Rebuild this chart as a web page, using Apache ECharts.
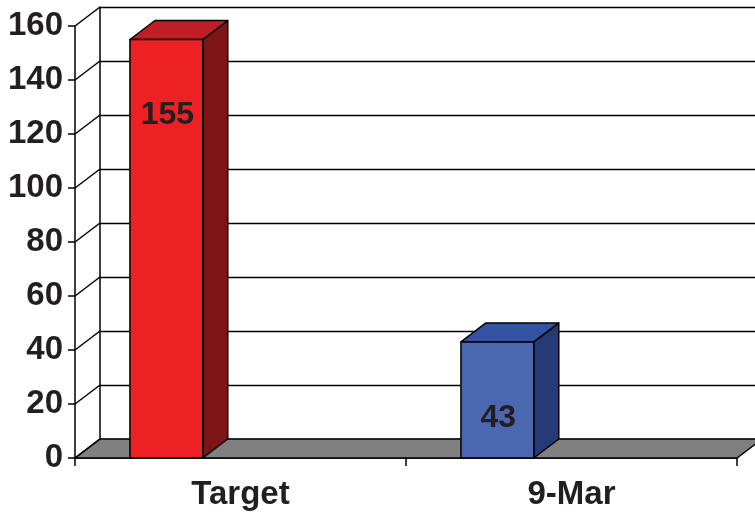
<!DOCTYPE html>
<html>
<head>
<meta charset="utf-8">
<style>
  html, body { margin: 0; padding: 0; background: #ffffff; }
  #chart { width: 755px; height: 514px; }
</style>
<script src="https://cdn.jsdelivr.net/npm/echarts@6/dist/echarts.min.js"></script>
</head>
<body>
<div id="chart"></div>
<script>
// Categories and values
const categories = ['Target', '9-Mar'];
const values = [155, 43];
const yTicks = [0, 20, 40, 60, 80, 100, 120, 140, 160];

// Bar colours: front face, top face, side face
const frontColors = ['#ED2024', '#4A67B0'];
const topColors = ['#BE1E24', '#3454A3'];
const sideColors = ['#7D1517', '#263A7A'];

// Depth offset of the pseudo-3D projection
const DX = 25;
const DY = -19;
const INK = '#231F20';
const FONT = '"Liberation Sans", Arial, sans-serif';

const chart = echarts.init(document.getElementById('chart'), null, { renderer: 'canvas' });

function renderFloor(params, api) {
  const cs = params.coordSys;
  const bx = cs.x, by = cs.y + cs.height, bw = cs.width;
  const children = [{
    type: 'polygon',
    shape: { points: [[bx, by], [bx + bw, by], [bx + bw + DX, by + DY], [bx + DX, by + DY]] },
    style: { fill: '#808080', stroke: '#000', lineWidth: 1.5 }
  }];
  yTicks.forEach(function (v) {
    const y = api.coord([0, v])[1];
    children.push({
      type: 'line',
      shape: { x1: bx, y1: y, x2: bx + DX, y2: y + DY },
      style: { stroke: '#000', lineWidth: 1.5 }
    });
  });
  return { type: 'group', children: children };
}

function renderBar(params, api) {
  const i = params.dataIndex;
  const cat = api.value(0);
  const val = api.value(1);
  const top = api.coord([cat, val]);
  const base = api.coord([cat, 0]);
  const band = api.size([1, 0])[0];
  const x0 = top[0] - band * 0.334;
  const w = band * 0.22;
  const x1 = x0 + w;
  const yt = top[1], yb = base[1];
  const edge = { stroke: '#000', lineWidth: 1.5, lineJoin: 'round' };
  return {
    type: 'group',
    children: [
      { type: 'polygon', shape: { points: [[x1, yb], [x1 + DX, yb + DY], [x1 + DX, yt + DY], [x1, yt]] },
        style: Object.assign({ fill: sideColors[i] }, edge) },
      { type: 'polygon', shape: { points: [[x0, yt], [x1, yt], [x1 + DX, yt + DY], [x0 + DX, yt + DY]] },
        style: Object.assign({ fill: topColors[i] }, edge) },
      { type: 'rect', shape: { x: x0, y: yt, width: w, height: yb - yt },
        style: Object.assign({ fill: frontColors[i] }, edge) },
      { type: 'text', x: x0 + w / 2 + 1, y: yt + 76,
        style: { text: String(val), fill: INK, font: 'bold 32px ' + FONT, align: 'center', verticalAlign: 'middle' } }
    ]
  };
}

chart.setOption({
  animation: false,
  backgroundColor: '#ffffff',
  grid: [
    { left: 75, right: 18, top: 26, bottom: 56 },
    { left: 100, right: -40, top: 7, bottom: 75 }
  ],
  xAxis: [
    {
      gridIndex: 0, type: 'category', data: categories, boundaryGap: true,
      axisLine: { show: true, lineStyle: { color: '#000', width: 1.5 } },
      axisTick: { show: true, length: 8, inside: false, lineStyle: { color: '#000', width: 1.5 } },
      axisLabel: { color: INK, fontSize: 33, fontWeight: 'bold', fontFamily: FONT, margin: 20 }
    },
    {
      gridIndex: 1, type: 'category', data: categories, show: false
    }
  ],
  yAxis: [
    {
      gridIndex: 0, type: 'value', min: 0, max: 160, interval: 20,
      axisLine: { show: true, lineStyle: { color: '#000', width: 1.5 } },
      axisTick: { show: true, length: 7, inside: false, lineStyle: { color: '#000', width: 1.5 } },
      axisLabel: { color: INK, fontSize: 33, fontWeight: 'bold', fontFamily: FONT, margin: 12 },
      splitLine: { show: false }
    },
    {
      gridIndex: 1, type: 'value', min: 0, max: 160, interval: 20,
      axisLine: { show: true, lineStyle: { color: '#000', width: 1.5 } },
      axisTick: { show: false },
      axisLabel: { show: false },
      splitLine: { show: true, lineStyle: { color: '#000', width: 1.3 } }
    }
  ],
  series: [
    {
      type: 'custom', xAxisIndex: 0, yAxisIndex: 0, z: 2,
      renderItem: renderFloor, data: [[0, 0]], silent: true
    },
    {
      type: 'custom', xAxisIndex: 0, yAxisIndex: 0, z: 3,
      renderItem: renderBar,
      data: values.map(function (v, i) { return [i, v]; })
    }
  ]
});
</script>
</body>
</html>
